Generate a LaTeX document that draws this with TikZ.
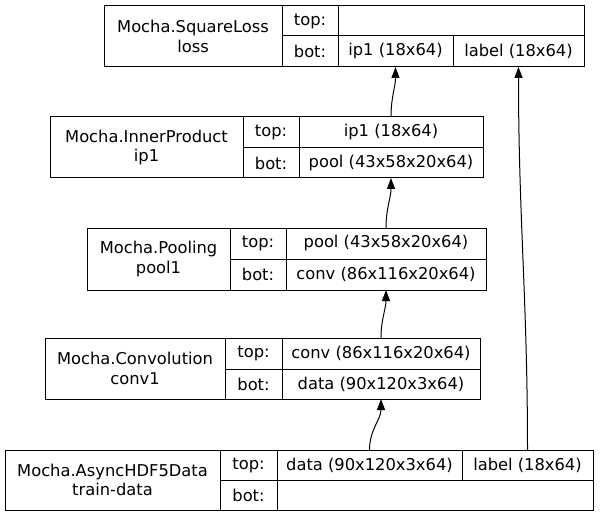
\documentclass[tikz,border=0pt]{standalone}
\usepackage{fontspec}
\setmainfont{DejaVu Sans}
\usetikzlibrary{arrows.meta}

\begin{document}
\begin{tikzpicture}[
    x=1pt, y=-1pt,
    cell/.style={rectangle, draw, line width=1pt, inner sep=0pt, outer sep=0pt, anchor=north west, align=center, font=\fontsize{16.3}{19.5}\selectfont},
    edge/.style={line width=1pt, -{Triangle[length=11pt, width=8pt]}}
]
\useasboundingbox (0,0) rectangle (600,516);

% Loss layer
\node[cell, minimum width=178, minimum height=61] (lossname) at (104,6) {Mocha.SquareLoss\\loss};
\node[cell, minimum width=56, minimum height=30] (losstopl) at (282,6) {top:};
\node[cell, minimum width=56, minimum height=31] (lossbotl) at (282,36) {bot:};
\node[cell, minimum width=246, minimum height=30] (losstop) at (338,6) {};
\node[cell, minimum width=115, minimum height=31] (lossip1) at (338,36) {ip1 (18x64)};
\node[cell, minimum width=131, minimum height=31] (losslabel) at (453,36) {label (18x64)};

% Inner product layer
\node[cell, minimum width=193, minimum height=61] (ip1name) at (50,117) {Mocha.InnerProduct\\ip1};
\node[cell, minimum width=56, minimum height=31] (ip1topl) at (243,117) {top:};
\node[cell, minimum width=56, minimum height=30] (ip1botl) at (243,148) {bot:};
\node[cell, minimum width=184, minimum height=31] (ip1top) at (299,117) {ip1 (18x64)};
\node[cell, minimum width=184, minimum height=30] (ip1bot) at (299,148) {pool (43x58x20x64)};

% Pooling layer
\node[cell, minimum width=143, minimum height=62] (poolname) at (87,228) {Mocha.Pooling\\pool1};
\node[cell, minimum width=56, minimum height=31] (pooltopl) at (230,228) {top:};
\node[cell, minimum width=56, minimum height=31] (poolbotl) at (230,259) {bot:};
\node[cell, minimum width=200, minimum height=31] (pooltop) at (286,228) {pool (43x58x20x64)};
\node[cell, minimum width=200, minimum height=31] (poolbot) at (286,259) {conv (86x116x20x64)};

% Convolution layer
\node[cell, minimum width=180, minimum height=61] (convname) at (45,338) {Mocha.Convolution\\conv1};
\node[cell, minimum width=57, minimum height=31] (convtopl) at (225,338) {top:};
\node[cell, minimum width=57, minimum height=30] (convbotl) at (225,369) {bot:};
\node[cell, minimum width=198, minimum height=31] (convtop) at (282,338) {conv (86x116x20x64)};
\node[cell, minimum width=198, minimum height=30] (convbot) at (282,369) {data (90x120x3x64)};

% Data layer
\node[cell, minimum width=215, minimum height=60] (dataname) at (5,450) {Mocha.AsyncHDF5Data\\train-data};
\node[cell, minimum width=57, minimum height=30] (datatopl) at (220,450) {top:};
\node[cell, minimum width=57, minimum height=30] (databotl) at (220,480) {bot:};
\node[cell, minimum width=185, minimum height=30] (datadata) at (277,450) {data (90x120x3x64)};
\node[cell, minimum width=131, minimum height=30] (datalabel) at (462,450) {label (18x64)};
\node[cell, minimum width=316, minimum height=30] (databot) at (277,480) {};

% Blob connections
\draw[edge] (datadata.north) to[out=90, in=-90] (convbot.south);
\draw[edge] (convtop.north) to[out=90, in=-90] (poolbot.south);
\draw[edge] (pooltop.north) to[out=90, in=-90] (ip1bot.south);
\draw[edge] (ip1top.north) to[out=90, in=-90] (lossip1.south);
\draw[edge] (datalabel.north) to[out=90, in=-90] (losslabel.south);

\end{tikzpicture}
\end{document}
